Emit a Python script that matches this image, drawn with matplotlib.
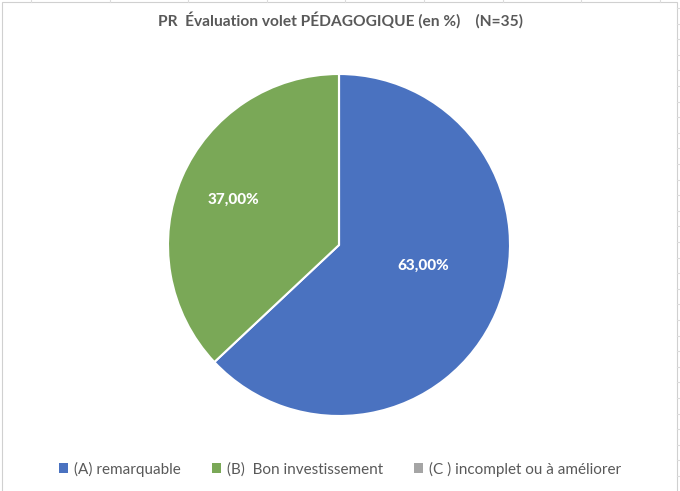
import matplotlib
matplotlib.use("Agg")
import matplotlib.pyplot as plt
from matplotlib.patches import Rectangle
from matplotlib.lines import Line2D
import numpy as np

title = "PR  Évaluation volet PÉDAGOGIQUE (en %)    (N=35)"
categories = ["(A) remarquable", "(B)  Bon investissement", "(C ) incomplet ou à améliorer"]
values = [63.0, 37.0, 0.0]
colors = ["#4A72C0", "#7AA857", "#A5A5A5"]
label_dist = [0.50, 0.67, 0.6]
label_nudge = [(0.035, 0.08), (0.0, 0.0), (0.0, 0.0)]

W, H = 680, 491
fig = plt.figure(figsize=(W / 100, H / 100), dpi=100)
fig.patch.set_facecolor("white")

# spreadsheet grid stubs around the chart object
grid_c = "#dcdcdc"
for x in np.arange(31, 680, 78.6):
    fig.add_artist(Line2D([x / W, x / W], [1, 1 - 2 / H], color=grid_c, lw=0.8))
for y in np.arange(8, 491, 15.6):
    fig.add_artist(Line2D([677 / W, 1], [1 - y / H, 1 - y / H], color=grid_c, lw=0.8))
# chart area border
fig.add_artist(Rectangle((2 / W, -0.01), 675 / W, 1 - 2 / H + 0.01, transform=fig.transFigure,
                         facecolor="white", edgecolor="#d0d0d0", lw=0.8, zorder=0))

cx, cy, r = 339, 245, 171
ax = fig.add_axes([(cx - r) / W, (H - cy - r) / H, 2 * r / W, 2 * r / H])
wedges, _ = ax.pie(values, colors=colors, startangle=90, counterclock=False, radius=1,
                   wedgeprops=dict(edgecolor="white", linewidth=1.5))
ax.set_xlim(-1, 1)
ax.set_ylim(-1, 1)
ax.set_aspect("equal")
ax.axis("off")

for w, v, d, (nx, ny) in zip(wedges, values, label_dist, label_nudge):
    if v <= 0:
        continue
    mid = np.deg2rad((w.theta1 + w.theta2) / 2)
    ax.text(d * np.cos(mid) + nx, d * np.sin(mid) + ny, f"{v:.2f}%".replace(".", ","),
            ha="center", va="center", color="white", fontsize=11,
            fontweight="black", family="Lato")

fig.text(0.5, 1 - 20 / H, title, ha="center", va="center", fontsize=11.2,
         fontweight="bold", color="#595959", family="Lato")

leg = fig.legend(wedges, categories, loc="center", bbox_to_anchor=(0.5, 1 - 469 / H),
                 ncol=3, frameon=False, handlelength=0.6, handleheight=0.6,
                 handletextpad=0.4, columnspacing=2.0, prop=dict(family="Lato", size=11))
for t in leg.get_texts():
    t.set_color("#595959")
for h in leg.legend_handles:
    h.set_edgecolor("none")

fig.savefig("out.png", dpi=100)
